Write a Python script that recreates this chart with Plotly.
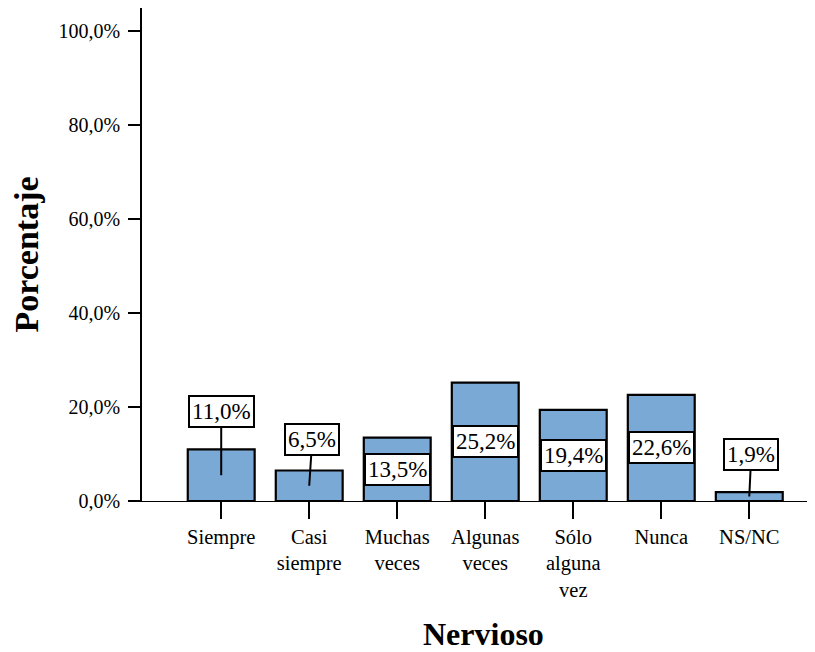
import plotly.graph_objects as go

categories = ["Siempre", "Casi<br>siempre", "Muchas<br>veces", "Algunas<br>veces",
              "Sólo<br>alguna<br>vez", "Nunca", "NS/NC"]
values = [11.0, 6.5, 13.5, 25.2, 19.4, 22.6, 1.9]
labels = ["11,0%", "6,5%", "13,5%", "25,2%", "19,4%", "22,6%", "1,9%"]
y_ticks = [0, 20, 40, 60, 80, 100]
y_tick_text = ["0,0%", "20,0%", "40,0%", "60,0%", "80,0%", "100,0%"]

FONT = "Liberation Serif"
fig = go.Figure()
fig.add_trace(go.Bar(
    x=categories, y=values, width=0.76,
    marker=dict(color="#7BA9D6", line=dict(color="black", width=2.2)),
    hoverinfo="skip",
))

# label offsets (style only): short bars get a leader line from above
offsets = {0: (0, -64), 1: (3, -46), 6: (2, -42)}
for i, (c, v, t) in enumerate(zip(categories, values, labels)):
    common = dict(x=c, y=v / 2, xref="x", yref="y", text=t,
                  font=dict(family=FONT, size=23, color="black"),
                  bgcolor="white", bordercolor="black", borderwidth=2, borderpad=2)
    if i in offsets:
        ax, ay = offsets[i]
        fig.add_annotation(**common, showarrow=True, arrowhead=0, arrowwidth=2,
                           arrowcolor="black", ax=ax, ay=ay)
    else:
        fig.add_annotation(**common, showarrow=False)

fig.add_annotation(text="<b>Porcentaje</b>", xref="paper", yref="paper", x=0, y=0.5,
                   xshift=-116, xanchor="center", yanchor="middle", textangle=-90,
                   showarrow=False, font=dict(family=FONT, size=34, color="black"))
fig.add_annotation(text="<b>Nervioso</b>", xref="paper", yref="paper", x=0.5, y=0,
                   xshift=7, yshift=-133, xanchor="center", yanchor="middle",
                   showarrow=False, font=dict(family=FONT, size=32, color="black"))

fig.update_layout(
    width=807, height=644,
    margin=dict(l=134, r=5, t=0, b=151),
    paper_bgcolor="white", plot_bgcolor="white",
    showlegend=False,
    font=dict(family=FONT, size=20, color="black"),
)
fig.update_xaxes(type="category", range=[-0.9, 6.69], showline=True, linecolor="black",
                 linewidth=1, ticks="outside", ticklen=17, tickwidth=2, tickcolor="black",
                 showgrid=False, zeroline=False, tickfont=dict(family=FONT, size=20.5))
fig.update_yaxes(range=[0, 105], tickvals=y_ticks, ticktext=y_tick_text, showline=True,
                 linecolor="black", linewidth=1.5, ticks="outside", ticklen=12, tickwidth=2,
                 tickcolor="black", showgrid=False, zeroline=False, ticklabelstandoff=4,
                 tickfont=dict(family=FONT, size=20))

fig.write_html("out.html")
